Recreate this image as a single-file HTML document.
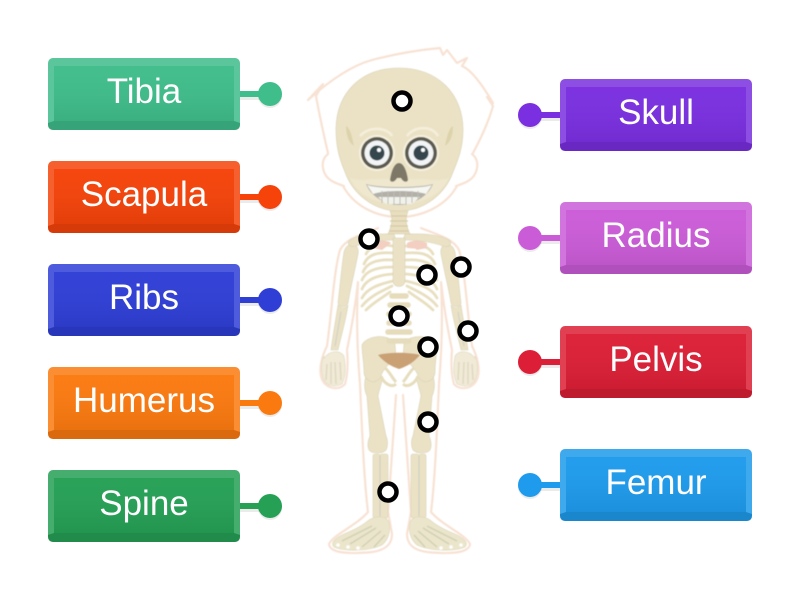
<!DOCTYPE html>
<html><head><meta charset="utf-8"><style>
html,body{margin:0;padding:0;background:#fff;width:800px;height:600px;overflow:hidden}
svg{display:block}
text.l{font-family:"Liberation Sans",sans-serif;font-size:35px;fill:#fff;text-anchor:middle}
.bone{fill:#ebe2c6;stroke:#d8d1b4;stroke-width:.6}
.rib{fill:none;stroke:#e8dfc0;stroke-width:2.8;stroke-linecap:round}
.skin{fill:none;stroke:#f8e2d3;stroke-width:2.2;stroke-linejoin:round;stroke-linecap:round}
.mark{fill:#fff;stroke:#000;stroke-width:4.5}
</style></head><body>
<svg width="800" height="600" viewBox="0 0 800 600" xmlns="http://www.w3.org/2000/svg">
<defs>
<filter id="soft" x="-5%" y="-5%" width="110%" height="110%"><feGaussianBlur stdDeviation=".5"/></filter>
<linearGradient id="sh" x1="0" y1="0" x2="0" y2="1"><stop offset="0" stop-color="#fff" stop-opacity=".02"/><stop offset="1" stop-color="#000" stop-opacity=".07"/></linearGradient>
<g id="box">
<rect x="0" y="0" width="192" height="72" rx="5" fill="var(--c)"/>
<path d="M5 0H187Q192 0 192 5V65L186 63V8H6V63L0 65V5Q0 0 5 0Z" fill="#fff" fill-opacity=".15"/>
<rect x="6" y="8" width="180" height="55" fill="url(#sh)"/>
<path d="M0 65L6 63H186L192 65V67Q192 72 187 72H5Q0 72 0 67Z" fill="#000" fill-opacity=".13"/>
</g>
<g id="ldot">
<rect x="192" y="36" width="30" height="6" fill="#000" fill-opacity=".08"/>
<circle cx="222" cy="38" r="12" fill="#000" fill-opacity=".08"/>
<rect x="192" y="33" width="26" height="6" fill="var(--c)"/>
<circle cx="222" cy="36" r="12" fill="var(--c)"/>
</g>
<g id="rdot">
<rect x="-30" y="36" width="30" height="6" fill="#000" fill-opacity=".08"/>
<circle cx="-30" cy="38" r="12" fill="#000" fill-opacity=".08"/>
<rect x="-26" y="33" width="26" height="6" fill="var(--c)"/>
<circle cx="-30" cy="36" r="12" fill="var(--c)"/>
</g>
<g id="halfbody">
<!-- skin outline -->
<path class="skin" d="M378 228C364 234 346 238 340 250C334 270 332 310 327 346C322 356 319 368 321 376C323 388 338 392 345 384C348 374 348 362 347 350C352 326 356 300 358 282C356 320 358 360 360 384C362 430 364 480 368 512C356 526 334 534 329 544C330 554 352 554 372 552C386 550 392 544 392 534L388 512L396 395"/>
<!-- humerus -->
<path class="bone" d="M349 245C356 243 359 248 358 254C355 270 350 290 348 303C346 308 340 308 338 303C340 286 342 264 344 252C345 248 347 246 349 245Z"/>
<!-- forearm -->
<path class="bone" d="M338 305C341 309 346 309 348 305C346 320 340 340 338 350L331 350C333 335 336 318 338 305Z"/>
<path d="M341 312L335 346" stroke="#d2d4c6" stroke-width="1.3" fill="none"/>
<!-- hand -->
<path d="M324 358C330 350 340 350 344 356C346 366 346 376 342 384C334 388 326 386 323 378C321 370 321 362 324 356Z" fill="#f0ead6" stroke="#ddd8c2" stroke-width=".6"/>
<path d="M327 364L326 380M331 362L331 384M335 362L336 384M340 362L341 380" stroke="#dcd7c0" stroke-width="1.3" fill="none"/>
<!-- femur -->
<path class="bone" d="M366 376C372 372 380 374 382 380C381 386 379 390 378 396L386 436C388 440 388 446 386 450C382 454 372 454 369 450C367 446 368 440 370 436L367 396C364 390 364 382 366 376Z"/>
<!-- tibia/fibula -->
<rect class="bone" x="373" y="454" width="7" height="64" rx="2"/>
<rect class="bone" x="380" y="454" width="8" height="64" rx="2"/>
<path d="M380 456V516" stroke="#ccd0c4" stroke-width="1.2"/>
<!-- foot -->
<path d="M369 520C377 515 386 516 389 522C391 532 388 540 382 545C370 551 344 552 334 547C330 543 335 538 344 534C354 530 362 526 369 520Z" fill="#ebe5cb" stroke="#dcd6ba" stroke-width=".6"/>
<path d="M372 526L342 541M376 528L350 544M381 531L362 547M385 535L374 547" stroke="#cfd0b6" stroke-width="1.4" fill="none"/>
<circle cx="338" cy="545" r="1.8" fill="#fff"/><circle cx="348" cy="547" r="1.8" fill="#fff"/><circle cx="358" cy="548" r="1.8" fill="#fff"/>
<!-- ribs -->
<path class="rib" d="M393 246C380 244 370 246 366 254"/>
<path class="rib" d="M393 253C378 252 368 254 364 264"/>
<path class="rib" d="M393 260C378 259 367 262 363 272"/>
<path class="rib" d="M393 267C378 267 366 270 362 280"/>
<path class="rib" d="M393 274C378 275 366 279 362 289"/>
<path class="rib" d="M393 281C380 284 367 288 362 298"/>
<path class="rib" d="M392 286C382 291 370 296 362 306"/>
<path class="rib" d="M390 292C382 298 374 302 366 310"/>
<!-- clavicle -->
<path class="bone" d="M394 234C380 234 362 233 350 240C346 244 350 248 356 246C370 241 384 240 396 240Z"/>
<path d="M372 243C378 240 388 240 391 243L382 250L372 248Z" fill="#f2cfc0"/>
<!-- hip joint -->
<path class="bone" d="M362 345C366 336 388 332 395 344L396 358C392 362 384 366 380 378C374 386 364 380 364 372C364 362 362 354 362 345Z"/>
<path d="M385 368C390 372 392 378 396 382" fill="none" stroke="#e6ddbd" stroke-width="3"/>
<path d="M381 376C384 384 392 388 396 384" fill="none" stroke="#e6ddbd" stroke-width="3"/>
</g>
</defs>

<!-- skeleton -->
<g filter="url(#soft)">
<!-- hair / head outline -->
<path class="skin" d="M308 100C328 82 350 66 372 60C395 54 418 50 440 48L443 55L447 50L457 63L467 58L462 66C472 70 483 86 493 103L487 97L493 106C488 124 480 140 473 153M308 100L323 84L316 96C320 118 324 136 328 153"/>
<path class="skin" d="M328 154C320 160 322 172 328 178C332 182 338 184 344 186M472 154C480 160 478 172 472 178C468 182 462 184 456 186"/>
<path class="skin" d="M343 186C354 206 376 217 399 217C422 217 446 206 457 186"/>
<use href="#halfbody"/>
<use href="#halfbody" transform="translate(799 0) scale(-1 1)"/>
<!-- skull -->
<path class="bone" d="M399 68C360 68 336 94 336 130C336 148 340 160 345 172C352 192 372 211 399 211C426 211 446 192 453 172C458 160 463 148 463 130C463 94 438 68 399 68Z"/>
<path d="M346 126C350 128 352 136 354 146C348 142 346 134 346 126ZM453 126C449 128 447 136 445 146C451 142 453 134 453 126Z" fill="#ddd3ab"/>
<path d="M360 136C370 125 388 128 392 136M407 136C414 126 432 125 438 136" fill="none" stroke="#f5eedb" stroke-width="2.5"/>
<path d="M350 178C360 182 372 178 399 179C426 178 438 182 449 178C440 196 422 204 399 204C376 204 358 196 350 178Z" fill="#efe7ce"/>
<path d="M366 184C378 188 420 188 433 184C428 197 412 205 399 205C386 205 371 197 366 184Z" fill="#b2b0a8"/>
<path d="M367 185C378 189 420 189 432 185L426 194C414 190 384 190 373 194Z" fill="#f6f6f2"/>
<path d="M378 197H420L412 204H386Z" fill="#f2f2ec"/>
<path d="M382 191V203M388 191V204M394 191V205M400 191V205M406 191V205M412 191V203M418 191V200" stroke="#bdbbb0" stroke-width="1"/>
<circle cx="377" cy="153" r="18" fill="#f6f1e0"/>
<circle cx="421" cy="153" r="18" fill="#f6f1e0"/>
<circle cx="377" cy="153" r="16" fill="#5c5a50"/>
<circle cx="421" cy="153" r="16" fill="#5c5a50"/>
<circle cx="377" cy="153" r="12.500" fill="#f2f4f6"/>
<circle cx="421" cy="153" r="12.500" fill="#f2f4f6"/>
<circle cx="377" cy="153" r="7.500" fill="#34474d"/>
<circle cx="421" cy="153" r="7.500" fill="#34474d"/>
<circle cx="379" cy="150" r="2" fill="#fff"/>
<circle cx="423" cy="150" r="2" fill="#fff"/>
<path d="M399 163C394 163 391 172 390 180C391 183 395 182 397 178H401C403 182 407 183 408 180C407 172 404 163 399 163Z" fill="#7d7767"/>
<!-- neck -->
<path d="M390 211C393 218 392 226 388 234H410C406 226 405 218 408 211Z" fill="#e9dfbf" stroke="#d5ccab" stroke-width=".6"/>
<path d="M391 216H407M390 221H408M390 226H408M389 231H409" stroke="#d5ccab" stroke-width="1.3"/>
<!-- sternum -->
<path class="bone" d="M393 238H405L405 282C403 288 395 288 393 282Z"/>
<path d="M407 243C412 240 421 240 425 243L420 249L407 248Z" fill="#f2cfc0"/>
<!-- lumbar spine -->
<path d="M392 296H406M390 305H408M389 314H409M389 323H409M388 332H410M389 341H409" stroke="#e5dcbb" stroke-width="5.500" stroke-linecap="round"/>
<!-- sacrum -->
<path d="M378 355C388 352 410 352 420 355C414 362 408 366 399 369C390 366 384 362 378 355Z" fill="#c9a175"/>
</g>

<!-- markers -->
<circle class="mark" cx="402" cy="101" r="8.500"/>
<circle class="mark" cx="369" cy="239" r="8.500"/>
<circle class="mark" cx="427" cy="275" r="8.500"/>
<circle class="mark" cx="461" cy="267" r="8.500"/>
<circle class="mark" cx="399" cy="316" r="8.500"/>
<circle class="mark" cx="468" cy="331" r="8.500"/>
<circle class="mark" cx="428" cy="347" r="8.500"/>
<circle class="mark" cx="428" cy="422" r="8.500"/>
<circle class="mark" cx="388" cy="492" r="8.500"/>

<!-- left labels -->
<g transform="translate(48 58)" style="--c:#3fbd8a"><use href="#ldot"/><use href="#box"/><text class="l" x="96" y="45">Tibia</text></g>
<g transform="translate(48 161)" style="--c:#f5430a"><use href="#ldot"/><use href="#box"/><text class="l" x="96" y="45">Scapula</text></g>
<g transform="translate(48 264)" style="--c:#2f3fd6"><use href="#ldot"/><use href="#box"/><text class="l" x="96" y="45">Ribs</text></g>
<g transform="translate(48 367)" style="--c:#fb7a10"><use href="#ldot"/><use href="#box"/><text class="l" x="96" y="45">Humerus</text></g>
<g transform="translate(48 470)" style="--c:#25a055"><use href="#ldot"/><use href="#box"/><text class="l" x="96" y="45">Spine</text></g>

<!-- right labels -->
<g transform="translate(560 79)" style="--c:#7a2fe0"><use href="#rdot"/><use href="#box"/><text class="l" x="96" y="45">Skull</text></g>
<g transform="translate(560 202)" style="--c:#cb5cd8"><use href="#rdot"/><use href="#box"/><text class="l" x="96" y="45">Radius</text></g>
<g transform="translate(560 326)" style="--c:#dc1f36"><use href="#rdot"/><use href="#box"/><text class="l" x="96" y="45">Pelvis</text></g>
<g transform="translate(560 449)" style="--c:#1e9bec"><use href="#rdot"/><use href="#box"/><text class="l" x="96" y="45">Femur</text></g>
</svg>
</body></html>
